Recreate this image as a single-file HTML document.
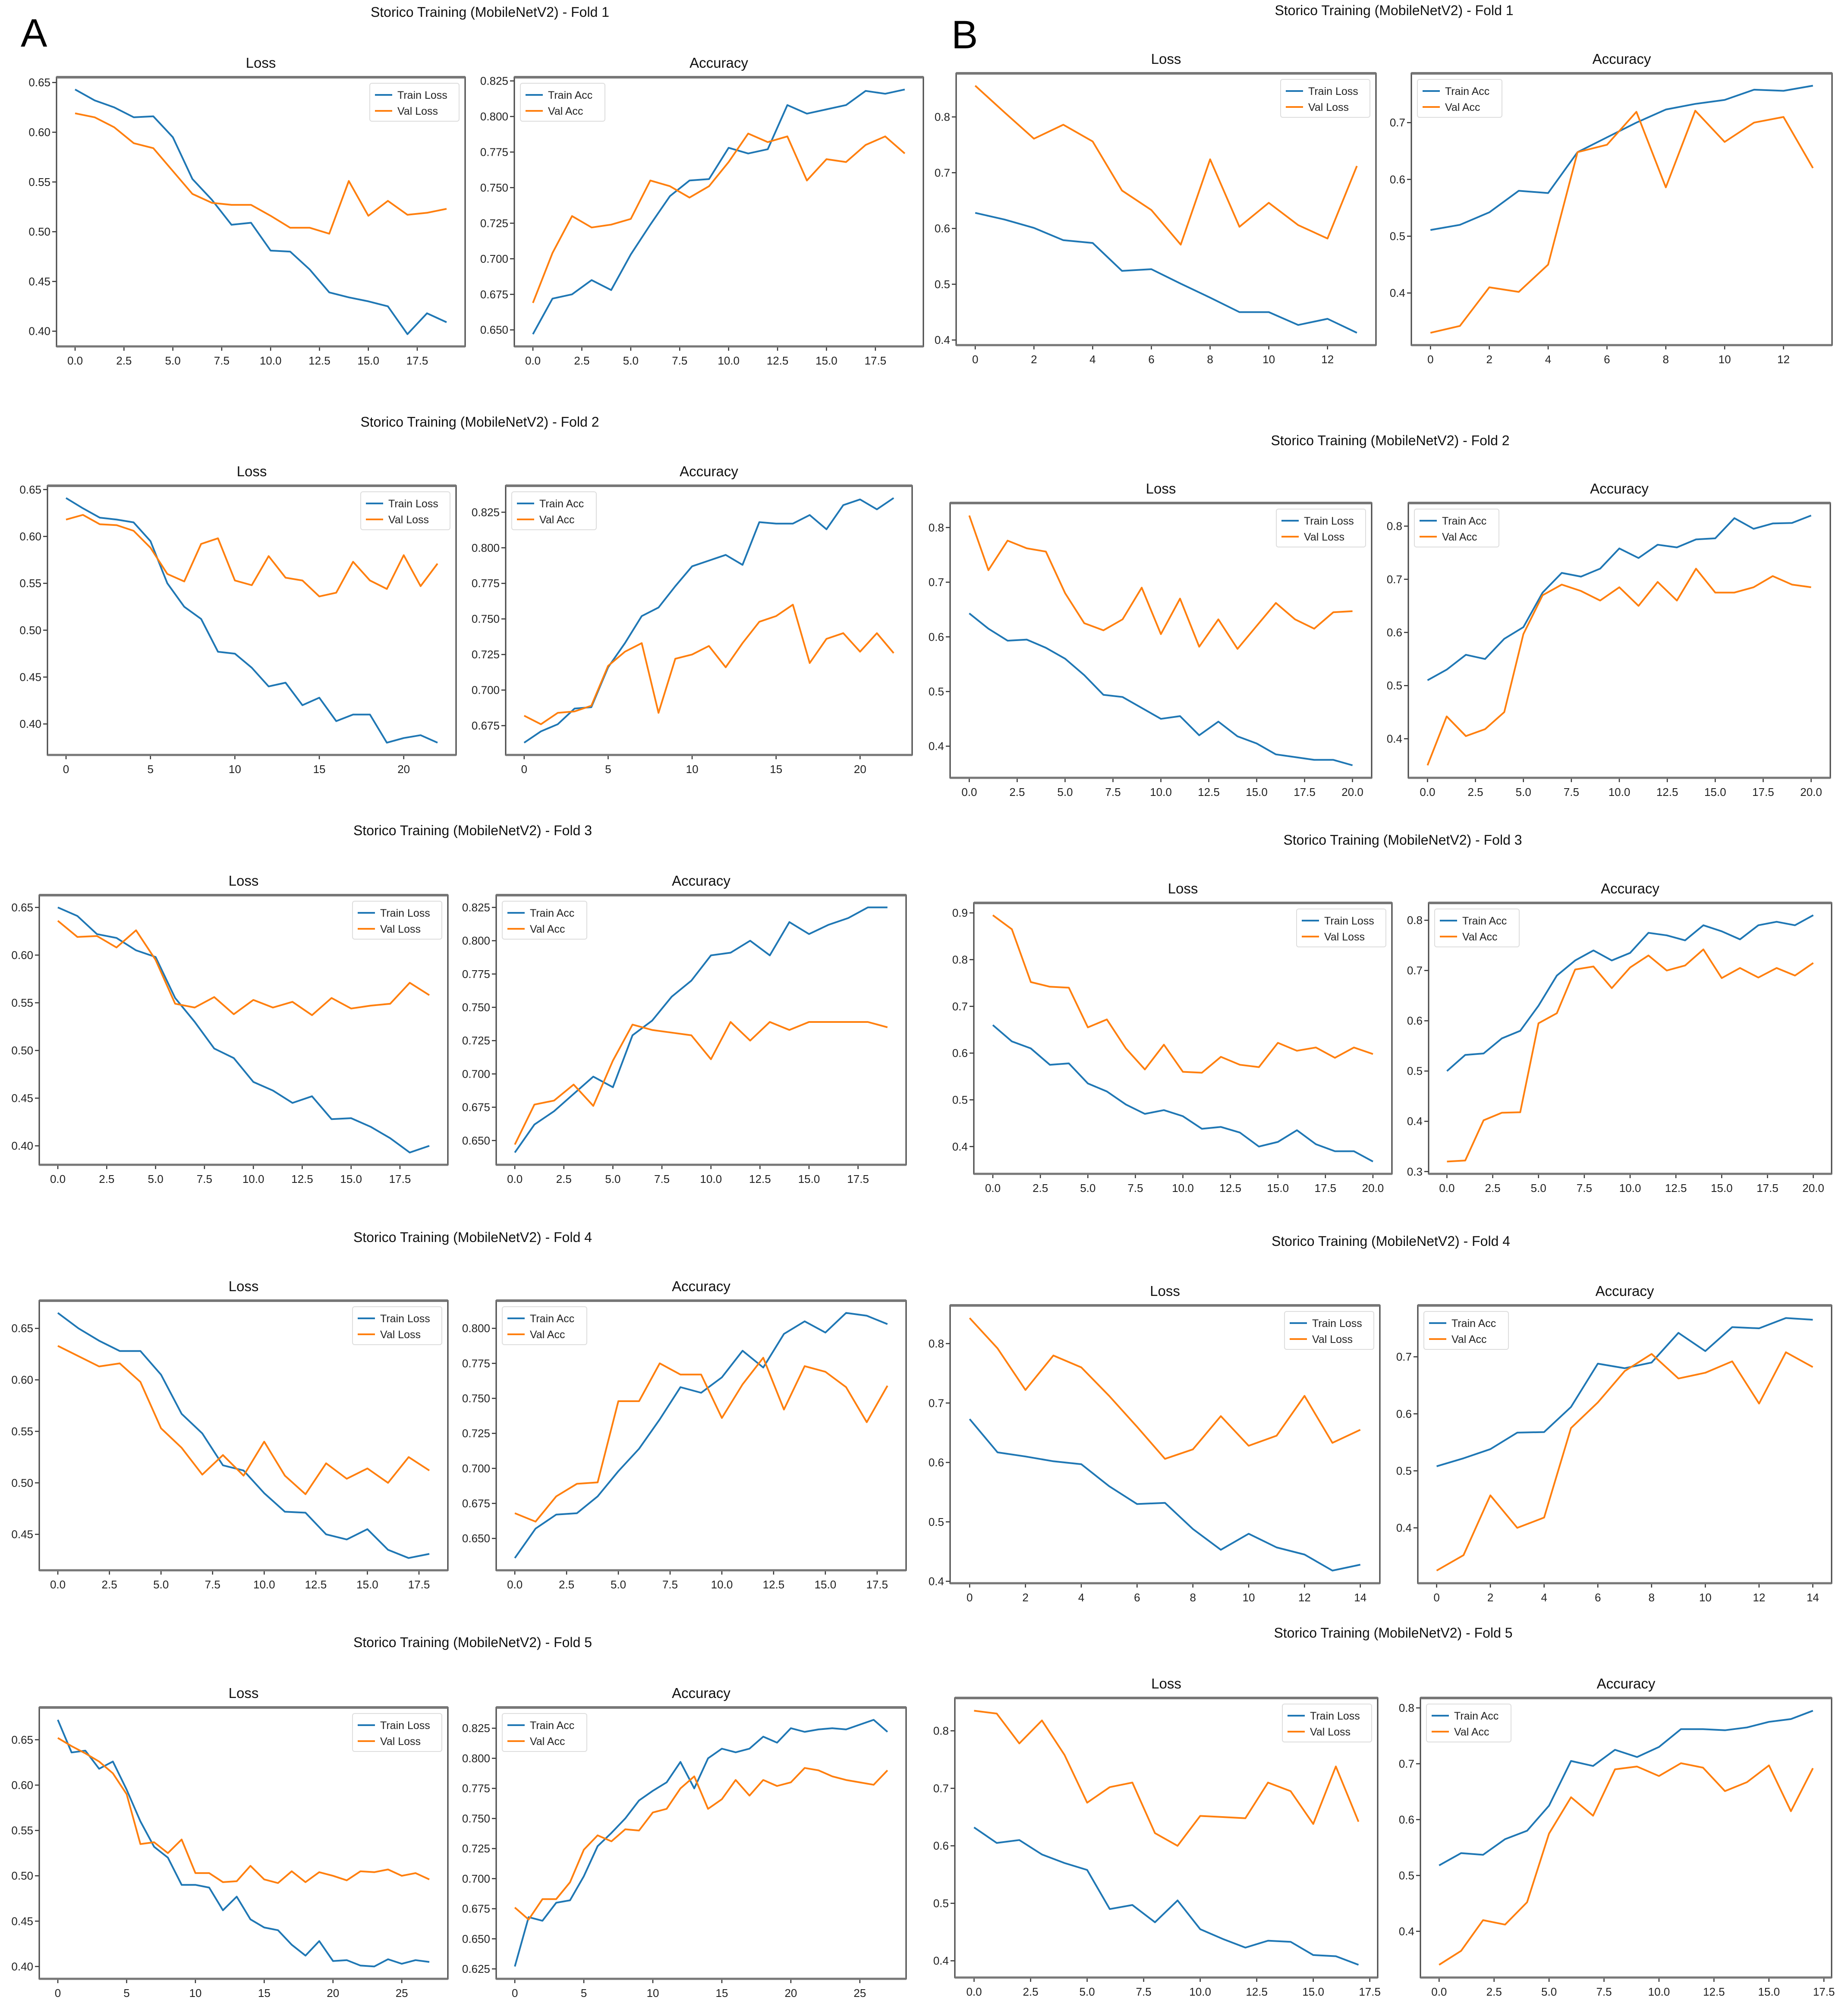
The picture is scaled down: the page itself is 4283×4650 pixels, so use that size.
<!DOCTYPE html>
<html><head><meta charset="utf-8">
<style>
html,body{margin:0;padding:0;background:#fff;}
svg{display:block;font-family:"Liberation Sans","DejaVu Sans",sans-serif;}
</style></head>
<body>
<svg id="fig" width="4283" height="4650" viewBox="0 0 4283 4650" xmlns="http://www.w3.org/2000/svg">
<rect x="0" y="0" width="4283" height="4650" fill="#fff"/>
<text x="48" y="108" font-size="92" fill="#000">A</text>
<text x="2205" y="112" font-size="92" fill="#000">B</text>
</svg>
<script>
// ---------- Data ----------
const a1TrainLoss=[.643,.632,.625,.615,.616,.595,.553,.532,.507,.509,.481,.480,.462,.439,.434,.430,.425,.397,.418,.409];
const a1ValLoss=[.619,.615,.605,.589,.584,.561,.538,.529,.527,.527,.516,.504,.504,.498,.551,.516,.531,.517,.519,.523];
const a1TrainAcc=[.647,.672,.675,.685,.678,.703,.724,.744,.755,.756,.778,.774,.777,.808,.802,.805,.808,.818,.816,.819];
const a1ValAcc=[.669,.704,.730,.722,.724,.728,.755,.751,.743,.751,.768,.788,.782,.786,.755,.770,.768,.780,.786,.774];

const b1TrainLoss=[.628,.616,.601,.579,.574,.524,.527,.501,.476,.450,.450,.427,.438,.413];
const b1ValLoss=[.856,.808,.761,.786,.756,.668,.633,.571,.724,.603,.646,.606,.582,.712];
const b1TrainAcc=[.511,.520,.542,.580,.576,.648,.674,.700,.723,.733,.740,.758,.756,.765];
const b1ValAcc=[.330,.342,.410,.402,.450,.648,.661,.719,.586,.721,.666,.700,.710,.620];

const a2TrainLoss=[.641,.630,.620,.618,.615,.595,.550,.525,.512,.477,.475,.460,.440,.444,.420,.428,.403,.410,.410,.380,.385,.388,.380];
const a2ValLoss=[.618,.623,.613,.612,.606,.588,.560,.552,.592,.598,.553,.548,.579,.556,.553,.536,.540,.573,.553,.544,.580,.547,.571];
const a2TrainAcc=[.663,.671,.676,.687,.688,.716,.733,.752,.758,.773,.787,.791,.795,.788,.818,.817,.817,.823,.813,.830,.834,.827,.835];
const a2ValAcc=[.682,.676,.684,.685,.689,.717,.727,.733,.684,.722,.725,.731,.716,.733,.748,.752,.760,.719,.736,.740,.727,.740,.726];

const b2TrainLoss=[.643,.615,.593,.595,.580,.560,.530,.494,.490,.470,.450,.455,.420,.445,.418,.405,.385,.380,.375,.375,.365];
const b2ValLoss=[.822,.722,.776,.762,.756,.680,.625,.612,.632,.690,.605,.670,.582,.632,.578,.620,.662,.632,.615,.645,.647];
const b2TrainAcc=[.510,.530,.558,.550,.588,.610,.675,.712,.705,.720,.758,.740,.765,.760,.775,.777,.815,.795,.805,.806,.820];
const b2ValAcc=[.350,.442,.405,.418,.450,.597,.670,.690,.678,.660,.685,.650,.695,.660,.720,.675,.675,.685,.706,.690,.685];

const a3TrainLoss=[.650,.641,.622,.618,.605,.598,.555,.530,.502,.492,.467,.458,.445,.452,.428,.429,.420,.408,.393,.400];
const a3ValLoss=[.636,.619,.620,.608,.626,.595,.549,.545,.556,.538,.553,.545,.551,.537,.555,.544,.547,.549,.571,.558];
const a3TrainAcc=[.641,.662,.672,.685,.698,.690,.729,.740,.758,.770,.789,.791,.800,.789,.814,.805,.812,.817,.825,.825];
const a3ValAcc=[.647,.677,.680,.692,.676,.710,.737,.733,.731,.729,.711,.739,.725,.739,.733,.739,.739,.739,.739,.735];

const b3TrainLoss=[.660,.625,.610,.575,.578,.535,.518,.490,.470,.478,.465,.438,.442,.430,.400,.410,.435,.405,.390,.390,.368];
const b3ValLoss=[.895,.865,.752,.742,.740,.655,.672,.610,.565,.618,.560,.558,.592,.575,.570,.622,.605,.612,.590,.612,.598];
const b3TrainAcc=[.500,.532,.535,.565,.580,.630,.690,.720,.740,.720,.735,.775,.770,.760,.790,.778,.762,.790,.797,.790,.810];
const b3ValAcc=[.320,.322,.402,.417,.418,.595,.615,.702,.708,.665,.706,.730,.700,.710,.742,.685,.705,.686,.705,.690,.715];

const a4TrainLoss=[.665,.650,.638,.628,.628,.605,.567,.548,.517,.512,.490,.472,.471,.450,.445,.455,.435,.427,.431];
const a4ValLoss=[.633,.623,.613,.616,.598,.553,.534,.508,.527,.507,.540,.507,.489,.519,.504,.514,.500,.525,.512];
const a4TrainAcc=[.636,.657,.667,.668,.680,.698,.714,.735,.758,.754,.765,.784,.772,.796,.805,.797,.811,.809,.803];
const a4ValAcc=[.668,.662,.680,.689,.690,.748,.748,.775,.767,.767,.736,.760,.779,.742,.773,.769,.758,.733,.759];

const b4TrainLoss=[.673,.617,.610,.602,.597,.560,.530,.532,.488,.453,.480,.457,.445,.418,.428];
const b4ValLoss=[.843,.792,.722,.780,.760,.712,.660,.606,.622,.678,.628,.645,.712,.633,.655];
const b4TrainAcc=[.508,.522,.538,.567,.568,.612,.688,.680,.690,.742,.710,.752,.750,.768,.765];
const b4ValAcc=[.325,.352,.457,.400,.418,.575,.620,.675,.705,.662,.672,.692,.618,.708,.682];

const a5TrainLoss=[.672,.636,.638,.618,.626,.595,.560,.532,.520,.490,.490,.487,.462,.477,.452,.443,.440,.424,.412,.428,.406,.407,.401,.400,.408,.403,.407,.405];
const a5ValLoss=[.652,.643,.635,.626,.613,.590,.535,.537,.525,.540,.503,.503,.493,.494,.511,.496,.492,.505,.493,.504,.500,.495,.505,.504,.507,.500,.503,.496];
const a5TrainAcc=[.627,.668,.665,.680,.682,.702,.727,.738,.750,.765,.773,.780,.797,.775,.800,.808,.805,.808,.818,.813,.825,.822,.824,.825,.824,.828,.832,.822];
const a5ValAcc=[.676,.666,.683,.683,.697,.724,.736,.731,.741,.740,.755,.758,.775,.785,.758,.766,.782,.769,.782,.777,.780,.792,.790,.785,.782,.780,.778,.790];

const b5TrainLoss=[.632,.605,.610,.585,.570,.558,.490,.497,.467,.505,.455,.438,.423,.435,.433,.410,.408,.393];
const b5ValLoss=[.835,.830,.778,.818,.758,.675,.702,.710,.622,.600,.652,.650,.648,.710,.695,.638,.738,.642];
const b5TrainAcc=[.518,.540,.537,.565,.580,.625,.705,.696,.725,.712,.730,.762,.762,.760,.765,.775,.780,.795];
const b5ValAcc=[.340,.365,.420,.412,.452,.575,.640,.607,.690,.695,.678,.701,.693,.651,.667,.697,.615,.692];

// ---------- Tick labels ----------
const ticksLossA=['0.40','0.45','0.50','0.55','0.60','0.65'];
const ticksLossA4=['0.45','0.50','0.55','0.60','0.65'];
const ticksAccA1=['0.650','0.675','0.700','0.725','0.750','0.775','0.800','0.825'];
const ticksAccA2=['0.675','0.700','0.725','0.750','0.775','0.800','0.825'];
const ticksAccA4=['0.650','0.675','0.700','0.725','0.750','0.775','0.800'];
const ticksAccA5=['0.625','0.650','0.675','0.700','0.725','0.750','0.775','0.800','0.825'];
const ticksLossB=['0.4','0.5','0.6','0.7','0.8'];
const ticksLossB3=['0.4','0.5','0.6','0.7','0.8','0.9'];
const ticksAccB47=['0.4','0.5','0.6','0.7'];
const ticksAccB48=['0.4','0.5','0.6','0.7','0.8'];
const ticksAccB3=['0.3','0.4','0.5','0.6','0.7','0.8'];
const xTicks175=['0.0','2.5','5.0','7.5','10.0','12.5','15.0','17.5'];
const xTicks200=['0.0','2.5','5.0','7.5','10.0','12.5','15.0','17.5','20.0'];
const xTicks12=['0','2','4','6','8','10','12'];
const xTicks14=['0','2','4','6','8','10','12','14'];
const xTicks20=['0','5','10','15','20'];
const xTicks25=['0','5','10','15','20','25'];

const NS='http://www.w3.org/2000/svg';
const svg=document.getElementById('fig');
const BLUE='#1f77b4', ORANGE='#ff7f0e';
function mk(tag,attrs,parent){const e=document.createElementNS(NS,tag);for(const k in attrs)e.setAttribute(k,attrs[k]);(parent||svg).appendChild(e);return e;}

function drawAxes(p){
  const g=mk('g',{});
  
  
  const W=p.r-p.l,H=p.b-p.t,n=p.train.length;
  const xmin=-0.05*(n-1),xmax=(n-1)*1.05;
  const all=p.train.concat(p.val);
  let lo=Math.min(...all),hi=Math.max(...all),m=(hi-lo)*0.05;lo-=m;hi+=m;
  const sx=v=>p.l+(v-xmin)/(xmax-xmin)*W;
  const sy=v=>p.b-(v-lo)/(hi-lo)*H;
  // title
  const tt=mk('text',{x:(p.l+p.r)/2,y:p.t-22,'font-size':33,'text-anchor':'middle',fill:'#111'},g);
  tt.textContent=p.title;
  
  
  // y ticks
  p.yt.forEach(s=>{const v=parseFloat(s);const y=sy(v);if(y<p.t-1||y>p.b+1)return;
    mk('line',{x1:p.l-10,x2:p.l,y1:y,y2:y,stroke:'#333','stroke-width':2.5},g);
    const t=mk('text',{x:p.l-14,y:y+9,'font-size':26,'text-anchor':'end',fill:'#222'},g);t.textContent=s;
    
    });
  p.xt.forEach(s=>{const v=parseFloat(s);const x=sx(v);if(x<p.l-1||x>p.r+1)return;
    mk('line',{x1:x,x2:x,y1:p.b,y2:p.b+10,stroke:'#333','stroke-width':2.5},g);
    const t=mk('text',{x:x,y:p.b+42,'font-size':26,'text-anchor':'middle',fill:'#222'},g);t.textContent=s;
    
    });
  // series
  [[p.train,BLUE,'train-line'],[p.val,ORANGE,'val-line']].forEach(([d,c,nm])=>{
    const pts=d.map((v,i)=>sx(i).toFixed(1)+','+sy(v).toFixed(1)).join(' ');
    const pl=mk('polyline',{points:pts,fill:'none',stroke:c,'stroke-width':4,'stroke-linejoin':'round'},g);
    
    
  });
  // frame
  mk('rect',{x:p.l,y:p.t,width:W,height:H,fill:'none',stroke:'#444','stroke-width':3},g);
  mk('line',{x1:p.l,x2:p.r,y1:p.t,y2:p.t,stroke:'#777','stroke-width':6},g);
  mk('line',{x1:p.l,x2:p.r,y1:p.b,y2:p.b,stroke:'#777','stroke-width':5},g);
  // legend
  const lw=p.kind==='loss'?207:196,lh=88;
  const lx=p.kind==='loss'?p.r-lw-14:p.l+14,ly=p.t+14;
  const lg=mk('g',{},g);
  
  
  mk('rect',{x:lx,y:ly,width:lw,height:lh,rx:5,fill:'#fff','fill-opacity':0.85,stroke:'#ddd','stroke-width':2},lg);
  const labels=p.kind==='loss'?['Train Loss','Val Loss']:['Train Acc','Val Acc'];
  [BLUE,ORANGE].forEach((c,i)=>{const yy=ly+27+i*37;
    mk('line',{x1:lx+12,x2:lx+52,y1:yy,y2:yy,stroke:c,'stroke-width':4},lg);
    const t=mk('text',{x:lx+64,y:yy+9,'font-size':25,fill:'#222'},lg);t.textContent=labels[i];
    
    });
}

function suptitle(x,y,s){const t=mk('text',{x:x,y:y,'font-size':32,'text-anchor':'middle',fill:'#111'});t.textContent=s;
  
  }

const rows=[
 {A:{tt:39,t:179,b:803,ll:131,lr:1078,al:1192,ar:2140},B:{tt:35,t:170,b:800,ll:2216,lr:3189,al:3271,ar:4246}},
 {A:{tt:989,t:1126,b:1750,ll:110,lr:1057,al:1172,ar:2114},B:{tt:1032,t:1166,b:1803,ll:2202,lr:3179,al:3264,ar:4242}},
 {A:{tt:1936,t:2075,b:2700,ll:91,lr:1038,al:1150,ar:2100},B:{tt:1958,t:2093,b:2721,ll:2257,lr:3226,al:3311,ar:4245}},
 {A:{tt:2879,t:3015,b:3640,ll:91,lr:1038,al:1150,ar:2100},B:{tt:2888,t:3026,b:3670,ll:2202,lr:3198,al:3286,ar:4245}},
 {A:{tt:3818,t:3958,b:4587,ll:91,lr:1038,al:1150,ar:2100},B:{tt:3796,t:3936,b:4584,ll:2213,lr:3193,al:3292,ar:4245}}
];
const series={
 A:[[a1TrainLoss,a1ValLoss,a1TrainAcc,a1ValAcc,ticksLossA,ticksAccA1,xTicks175,xTicks175],
    [a2TrainLoss,a2ValLoss,a2TrainAcc,a2ValAcc,ticksLossA,ticksAccA2,xTicks20,xTicks20],
    [a3TrainLoss,a3ValLoss,a3TrainAcc,a3ValAcc,ticksLossA,ticksAccA1,xTicks175,xTicks175],
    [a4TrainLoss,a4ValLoss,a4TrainAcc,a4ValAcc,ticksLossA4,ticksAccA4,xTicks175,xTicks175],
    [a5TrainLoss,a5ValLoss,a5TrainAcc,a5ValAcc,ticksLossA,ticksAccA5,xTicks25,xTicks25]],
 B:[[b1TrainLoss,b1ValLoss,b1TrainAcc,b1ValAcc,ticksLossB,ticksAccB47,xTicks12,xTicks12],
    [b2TrainLoss,b2ValLoss,b2TrainAcc,b2ValAcc,ticksLossB,ticksAccB48,xTicks200,xTicks200],
    [b3TrainLoss,b3ValLoss,b3TrainAcc,b3ValAcc,ticksLossB3,ticksAccB3,xTicks200,xTicks200],
    [b4TrainLoss,b4ValLoss,b4TrainAcc,b4ValAcc,ticksLossB,ticksAccB47,xTicks14,xTicks14],
    [b5TrainLoss,b5ValLoss,b5TrainAcc,b5ValAcc,ticksLossB,ticksAccB48,xTicks175,xTicks175]]
};
rows.forEach((row,i)=>{
  ['A','B'].forEach(col=>{
    const L=row[col],S=series[col][i];
    suptitle((L.ll+L.ar)/2,L.tt,'Storico Training (MobileNetV2) - Fold '+(i+1));
    drawAxes({name:col.toLowerCase()+'-fold'+(i+1)+'-loss-chart',kind:'loss',title:'Loss',l:L.ll,r:L.lr,t:L.t,b:L.b,train:S[0],val:S[1],yt:S[4],xt:S[6]});
    drawAxes({name:col.toLowerCase()+'-fold'+(i+1)+'-accuracy-chart',kind:'acc',title:'Accuracy',l:L.al,r:L.ar,t:L.t,b:L.b,train:S[2],val:S[3],yt:S[5],xt:S[7]});
  });
});
</script>
</body></html>
